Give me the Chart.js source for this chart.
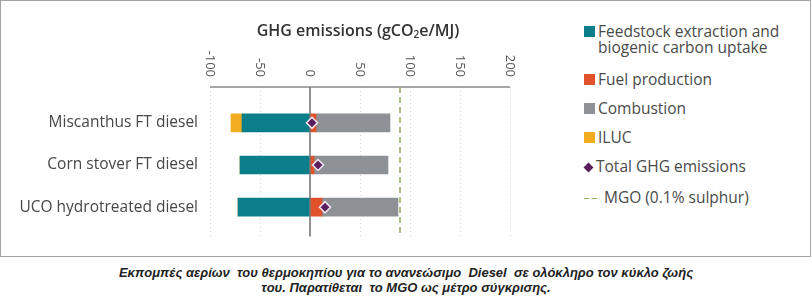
<!DOCTYPE html>
<html>
<head>
<meta charset="utf-8">
<script src="https://cdn.jsdelivr.net/npm/chart.js@4.4.1/dist/chart.umd.min.js"></script>
<style>
    body { margin: 0; background: #fff; width: 812px; height: 302px; position: relative; overflow: hidden; }
    #frame { position: absolute; left: 0; top: 0; width: 809px; height: 255px; border: 1px solid #a3a3a3; }
    #wrap { position: absolute; left: 0; top: 0; width: 580px; height: 250px; }
    .leg { position: absolute; left: 584px; font-family: "Open Sans", sans-serif; font-size: 15.5px; color: #4a4a4a; line-height: 16px; white-space: nowrap; }
    .leg .box { position: absolute; left: 0; top: 2px; width: 11px; height: 11px; }
    .leg .txt { position: absolute; left: 14px; top: -1px; }
    #caption { position: absolute; left: 0; width: 812px; top: 265px; text-align: center; font-family: "Liberation Sans", Arial, sans-serif; font-weight: bold; font-style: italic; font-size: 13px; line-height: 15px; color: #222; white-space: pre; }
</style>
</head>
<body>
<div id="frame"></div>
<div id="wrap"><canvas id="myChart"></canvas></div>
<div id="legend"></div>
<div id="caption">Εκπομπές αερίων  του θερμοκηπίου για το ανανεώσιμο  Diesel  σε ολόκληρο τον κύκλο ζωής
του. Παρατίθεται  το MGO ως μέτρο σύγκρισης.</div>
<script>
const categories = ["Miscanthus FT diesel", "Corn stover FT diesel", "UCO hydrotreated diesel"];
const feedstock = [-68, -70, -72];
const fuelProduction = [6, 4, 12];
const combustion = [74, 74, 76];
const iluc = [-11, 0, 0];
const totalGhg = [2, 8, 15];
const mgoValue = 90;
const xTicks = [-100, -50, 0, 50, 100, 150, 200];

const colors = {
    feedstock: "#0b7e8b",
    fuel: "#e0522b",
    combustion: "#8e9195",
    iluc: "#f1ad1f",
    total: "#5a1e5c",
    mgo: "#8fae5e"
};

// y is a numeric index axis so the plot can have uneven top / bottom room
const yMin = -0.85;
const yMax = 2.7;

function points(values) {
    return values.map((v, i) => ({ x: v, y: i }));
}

const topAxisPlugin = {
    id: "topAxis",
    beforeDatasetsDraw(chart) {
        const ctx = chart.ctx;
        const x = chart.scales.x;
        const top = chart.chartArea.top;
        ctx.save();
        ctx.strokeStyle = "#8a8a8a";
        ctx.lineWidth = 1.5;
        ctx.beginPath();
        ctx.moveTo(x.getPixelForValue(xTicks[0]), top);
        ctx.lineTo(x.getPixelForValue(xTicks[xTicks.length - 1]), top);
        ctx.stroke();
        ctx.restore();
    },
    afterDraw(chart) {
        const ctx = chart.ctx;
        const x = chart.scales.x;
        ctx.save();
        ctx.fillStyle = "#555";
        ctx.font = "13px 'Open Sans'";
        ctx.textAlign = "right";
        ctx.textBaseline = "middle";
        xTicks.forEach(t => {
            ctx.save();
            ctx.translate(x.getPixelForValue(t), 77);
            ctx.rotate(Math.PI / 2);
            ctx.fillText(String(t), 0, 0);
            ctx.restore();
        });

        // axis title with subscript 2
        const a = "GHG emissions (gCO";
        const b = "2";
        const c = "e/MJ)";
        const big = "600 16px 'Open Sans'";
        const small = "600 10px 'Open Sans'";
        ctx.font = big;
        const wa = ctx.measureText(a).width;
        const wc = ctx.measureText(c).width;
        ctx.font = small;
        const wb = ctx.measureText(b).width;
        let sx = (x.getPixelForValue(xTicks[0]) + x.getPixelForValue(xTicks[xTicks.length - 1])) / 2 - (wa + wb + wc) / 2 - 2;
        const sy = 31;
        ctx.fillStyle = "#333";
        ctx.textAlign = "left";
        ctx.font = big;
        ctx.fillText(a, sx, sy);
        sx += wa;
        ctx.font = small;
        ctx.fillText(b, sx, sy + 4);
        sx += wb;
        ctx.font = big;
        ctx.fillText(c, sx, sy);
        ctx.restore();
    }
};

const ctx = document.getElementById("myChart").getContext("2d");
const myChart = new Chart(ctx, {
    type: "bar",
    data: {
        datasets: [
            { label: "Total GHG emissions", type: "line", data: points(totalGhg), showLine: false, stack: "total", order: 0,
              pointStyle: "rectRot", pointRadius: 5.5, pointHoverRadius: 5.5, pointBackgroundColor: colors.total,
              pointBorderColor: "#f2e8f2", pointBorderWidth: 1.5 },
            { label: "zero", type: "line", data: [{ x: 0, y: yMin }, { x: 0, y: yMax }], stack: "zero", order: 1,
              borderColor: "#707070", borderWidth: 1.5, pointRadius: 0 },
            { label: "MGO (0.1% sulphur)", type: "line", data: [{ x: mgoValue, y: yMin }, { x: mgoValue, y: yMax }], stack: "mgo", order: 1,
              borderColor: colors.mgo, borderWidth: 1.5, borderDash: [6, 4], pointRadius: 0 },
            { label: "Feedstock extraction and biogenic carbon uptake", data: points(feedstock), backgroundColor: colors.feedstock, stack: "bars", order: 2 },
            { label: "Fuel production", data: points(fuelProduction), backgroundColor: colors.fuel, stack: "bars", order: 2 },
            { label: "Combustion", data: points(combustion), backgroundColor: colors.combustion, stack: "bars", order: 2 },
            { label: "ILUC", data: points(iluc), backgroundColor: colors.iluc, stack: "bars", order: 2 }
        ]
    },
    options: {
        indexAxis: "y",
        responsive: true,
        maintainAspectRatio: false,
        animation: false,
        events: [],
        barThickness: 18,
        layout: { padding: { left: 0, top: 0, right: 70, bottom: 12 } },
        plugins: { legend: { display: false }, tooltip: { enabled: false } },
        scales: {
            x: {
                type: "linear",
                position: "top",
                stacked: true,
                min: xTicks[0],
                max: xTicks[xTicks.length - 1],
                afterBuildTicks: s => { s.ticks = xTicks.map(v => ({ value: v })); },
                afterFit: s => { s.height = 87; },
                ticks: { display: false },
                grid: { color: "#d4d4d4", lineWidth: 1, drawTicks: false },
                border: { display: false, dash: [1, 3] }
            },
            y: {
                type: "linear",
                reverse: true,
                offset: false,
                stacked: true,
                min: yMin,
                max: yMax,
                afterBuildTicks: s => { s.ticks = categories.map((c, i) => ({ value: i })); },
                afterFit: s => { s.width = 210; },
                ticks: {
                    padding: 4,
                    color: "#474747",
                    font: { family: "'Open Sans'", size: 15.5 },
                    callback: v => categories[v]
                },
                grid: { display: false },
                border: { display: false }
            }
        }
    },
    plugins: [topAxisPlugin]
});

// legend beside the chart
const legendItems = [
    { text: "Feedstock extraction and<br>biogenic carbon uptake", color: colors.feedstock, top: 24, kind: "box" },
    { text: "Fuel production", color: colors.fuel, top: 72, kind: "box" },
    { text: "Combustion", color: colors.combustion, top: 101, kind: "box" },
    { text: "ILUC", color: colors.iluc, top: 130, kind: "box" },
    { text: "Total GHG emissions", color: colors.total, top: 159, kind: "diamond" },
    { text: "MGO (0.1% sulphur)", color: colors.mgo, top: 190, kind: "dash" }
];
const legend = document.getElementById("legend");
legendItems.forEach(item => {
    const el = document.createElement("div");
    el.className = "leg";
    el.style.top = item.top + "px";
    let marker = "";
    let textLeft = 14;
    if (item.kind === "box") {
        marker = `<span class="box" style="background:${item.color}"></span>`;
    } else if (item.kind === "diamond") {
        marker = `<span class="box" style="background:${item.color};width:7px;height:7px;left:1px;top:5px;transform:rotate(45deg)"></span>`;
        textLeft = 12;
    } else {
        marker = `<span style="position:absolute;left:0;top:8px;width:5px;border-top:1.5px solid ${item.color}"></span>` +
                 `<span style="position:absolute;left:8px;top:8px;width:5px;border-top:1.5px solid ${item.color}"></span>`;
        textLeft = 20;
    }
    el.innerHTML = marker + `<span class="txt" style="left:${textLeft}px">${item.text}</span>`;
    legend.appendChild(el);
});
</script>
</body>
</html>
